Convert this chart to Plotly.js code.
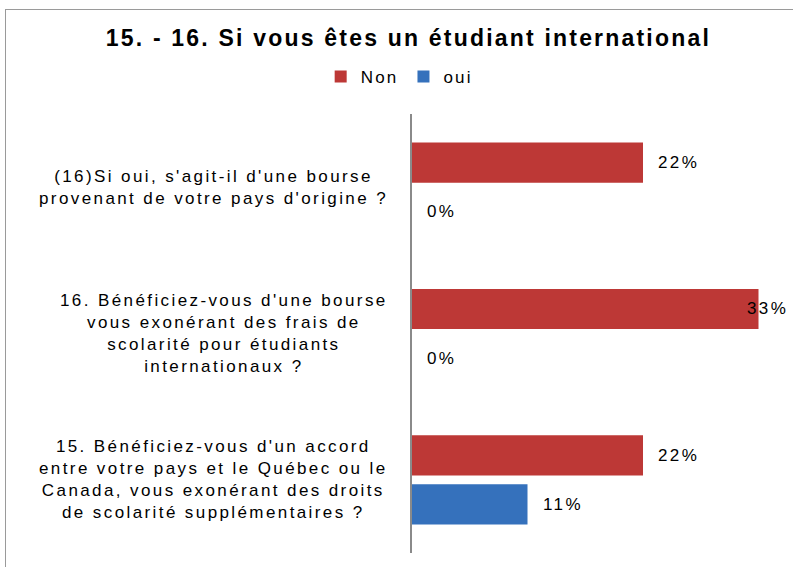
<!DOCTYPE html>
<html>
<head>
<meta charset="utf-8">
<script src="https://cdn.plot.ly/plotly-3.0.1.min.js"></script>
<style>
  html, body { margin: 0; padding: 0; background: #fff; }
  #wrap { position: relative; width: 793px; height: 567px; overflow: hidden; }
  #chart { position: absolute; left: 0; top: 0; width: 793px; height: 567px; }
  #frame { position: absolute; left: 5px; top: 9px; width: 800px; height: 600px;
           border-left: 1px solid #9a9a9a; border-top: 1px solid #9a9a9a; pointer-events: none; }
  /* the reference renders its text with wide tracking */
  .gtitle { letter-spacing: 2.2px; }
  .annotation-text { letter-spacing: 2.4px; }
  .legendtext { letter-spacing: 2.2px; }
</style>
</head>
<body>
<div id="wrap">
  <div id="chart"></div>
  <div id="frame"></div>
</div>
<script>
// ---- data ----
const categories = [
  "15. Bénéficiez-vous d'un accord<br>entre votre pays et le Québec ou le<br>Canada, vous exonérant des droits<br>de scolarité supplémentaires ?",
  "16. Bénéficiez-vous d'une bourse<br>vous exonérant des frais de<br>scolarité pour étudiants<br>internationaux ?",
  "(16)Si oui, s'agit-il d'une bourse<br>provenant de votre pays d'origine ?"
];
const seriesNames = ["Non", "oui"];
const nonValues = [22, 33, 22];   // percent
const ouiValues = [11, 0, 0];     // percent
const titleText = "15. - 16. Si vous êtes un étudiant international";

// ---- styles ----
const FONT = "Liberation Sans, Arial, sans-serif";
const colors = ["#bd3836", "#3571bc"];
const xMax = 36;
const bargap = 0.33;
const plotTop = 114, plotBottom = 14, plotLeft = 412, plotRight = 3;
const H = 567, W = 793;

const catIds = categories.map((c, i) => i);

const traces = [
  { type: "bar", orientation: "h", name: seriesNames[1], y: catIds, x: ouiValues,
    marker: { color: colors[1] }, hoverinfo: "skip" },
  { type: "bar", orientation: "h", name: seriesNames[0], y: catIds, x: nonValues,
    marker: { color: colors[0] }, hoverinfo: "skip" }
];

// category label annotations
const annotations = categories.map((c, i) => ({
  xref: "paper", yref: "y", x: 0, y: i, xanchor: "right", yanchor: "middle",
  xshift: -22, align: "center", showarrow: false, text: c,
  font: { family: FONT, size: 17, color: "#000" }
}));

// data-label annotations
const plotH = H - plotTop - plotBottom;
const catPx = plotH / categories.length;
const slotPx = catPx * (1 - bargap) / 2;
const plotW = W - plotLeft - plotRight;
function addLabels(vals, sign) {
  vals.forEach((v, i) => {
    const labelText = v + "%";
    const pxEnd = v / xMax * plotW;
    const fits = pxEnd + 13 + 45 < plotW;
    annotations.push({
      xref: "x", yref: "y", x: fits ? v : xMax, y: i,
      xanchor: fits ? "left" : "right", yanchor: "middle",
      xshift: fits ? 13 : 0, yshift: sign * slotPx / 2,
      showarrow: false, text: labelText,
      font: { family: FONT, size: 17, color: "#000" }
    });
  });
}
addLabels(nonValues, 1);
addLabels(ouiValues, -1);

const layout = {
  width: W, height: H,
  margin: { l: plotLeft, r: plotRight, t: plotTop, b: plotBottom, pad: 0 },
  paper_bgcolor: "#fff", plot_bgcolor: "#fff",
  title: { text: "<b>" + titleText + "</b>", x: 0.515, xanchor: "center", y: 1 - 38 / H, yanchor: "middle",
           font: { family: FONT, size: 23, color: "#000" } },
  showlegend: true,
  legend: { orientation: "h", xref: "container", x: 0.504, xanchor: "center",
            yref: "container", y: 1 - 77 / H, yanchor: "middle",
            traceorder: "reversed", font: { family: FONT, size: 17, color: "#000" },
            itemwidth: 30, tracegroupgap: 0, itemclick: false },
  barmode: "group", bargap: bargap, bargroupgap: 0.18,
  xaxis: { range: [0, xMax], visible: false, fixedrange: true },
  yaxis: { range: [-0.5, categories.length - 0.5], showticklabels: false, ticks: "",
           showgrid: false, zeroline: false, showline: true, linecolor: "#8a8a8a", linewidth: 2,
           fixedrange: true },
  annotations: annotations
};

Plotly.newPlot("chart", traces, layout, { displayModeBar: false, staticPlot: true });
</script>
</body>
</html>
